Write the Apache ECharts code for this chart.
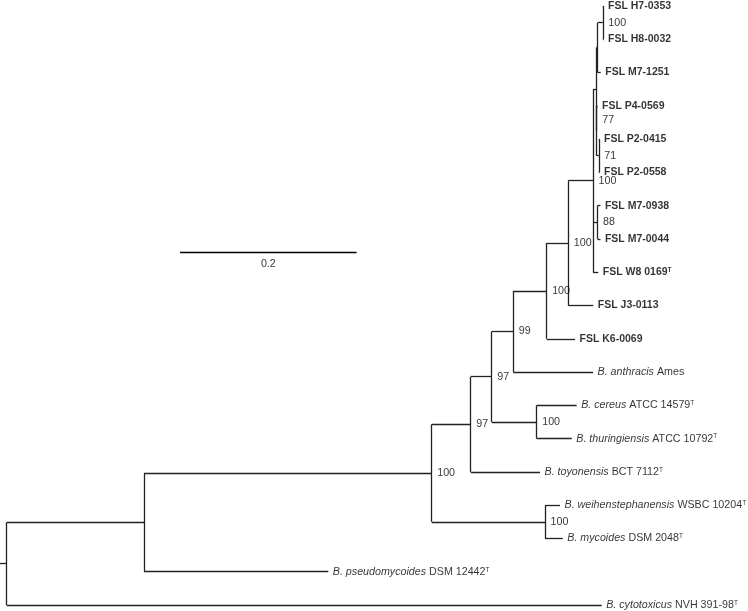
<!DOCTYPE html>
<html>
<head>
<meta charset="utf-8">
<script src="https://cdn.jsdelivr.net/npm/echarts@6/dist/echarts.min.js"></script>
<style>
  html, body { margin: 0; padding: 0; background: #fff; }
  #chart { width: 748px; height: 611px; }
</style>
</head>
<body>
<div id="chart"></div>
<script>
// leaves, top to bottom (row index = position in list)
const leafSpecies = ['', '', '', '', '', '', '', '', '', '', '',
  'B. anthracis', 'B. cereus', 'B. thuringiensis', 'B. toyonensis',
  'B. weihenstephanensis', 'B. mycoides', 'B. pseudomycoides', 'B. cytotoxicus']
const leafStrain = ['FSL H7-0353', 'FSL H8-0032', 'FSL M7-1251', 'FSL P4-0569', 'FSL P2-0415',
  'FSL P2-0558', 'FSL M7-0938', 'FSL M7-0044', 'FSL W8 0169', 'FSL J3-0113', 'FSL K6-0069',
  'Ames', 'ATCC 14579', 'ATCC 10792', 'BCT 7112', 'WSBC 10204', 'DSM 2048', 'DSM 12442', 'NVH 391-98']
const leafTypeStrain = [0, 0, 0, 0, 0, 0, 0, 0, 1, 0, 0, 0, 1, 1, 1, 1, 1, 1, 1]
// distance from root (substitutions per site)
const leafDepth = [0.6759, 0.6759, 0.6727, 0.6691, 0.6713, 0.6713, 0.6724, 0.6724, 0.6700, 0.6643,
  0.6436, 0.6640, 0.6455, 0.6399, 0.6040, 0.6266, 0.6297, 0.3642, 0.6738]
const leafParent = ['HH', 'HH', 'Zp', 'Q', 'P2', 'P2', 'M7', 'M7', 'H', 'G',
  'F', 'D2', 'CT', 'CT', 'C', 'E', 'E', 'A', 'root']

// internal nodes
const nodeIds     = ['HH', 'Zp', 'P2', 'Q', 'Z', 'M7', 'H', 'G', 'F', 'D2', 'CT', 'D', 'C', 'E', 'B', 'A', 'root']
const nodeParent  = ['Zp', 'Z', 'Q', 'Z', 'H', 'H', 'G', 'F', 'D2', 'D', 'D', 'C', 'B', 'B', 'A', 'root', null]
const nodeDepth   = [0.6751, 0.6693, 0.6705, 0.6682, 0.6680, 0.6690, 0.6640, 0.6360, 0.6115, 0.5737,
  0.6002, 0.5493, 0.5255, 0.6096, 0.4813, 0.1555, 0]
const nodeSupport = [100, null, 71, 77, null, 88, 100, 100, 100, 99, 100, 97, 97, 100, 100, null, null]
// small vertical nudge (px) for crowded support labels
const supportNudge = { Q: -11 }

const scaleBarLength = 0.2
const scaleBarStart = 0.1963
const scaleBarRow = 7.4
const rootStub = -0.0076

// build geometry through the tree
const depth = {}, row = {}, parent = {}, children = {}
leafStrain.forEach((s, i) => {
  const id = 'leaf' + i
  depth[id] = leafDepth[i]; row[id] = i; parent[id] = leafParent[i]
})
nodeIds.forEach((id, i) => { depth[id] = nodeDepth[i]; parent[id] = nodeParent[i] })
Object.keys(parent).forEach(id => {
  const p = parent[id]
  if (p) (children[p] = children[p] || []).push(id)
})
function placeRow(id) {
  if (row[id] !== undefined) return row[id]
  const ys = children[id].map(placeRow)
  row[id] = (Math.min(...ys) + Math.max(...ys)) / 2
  return row[id]
}
placeRow('root')

const segments = []
Object.keys(parent).forEach(id => {
  const p = parent[id]
  if (p) segments.push({ coords: [[depth[p], row[id]], [depth[id], row[id]]] })
})
Object.keys(children).forEach(id => {
  const ys = children[id].map(c => row[c])
  segments.push({ coords: [[depth[id], Math.min(...ys)], [depth[id], Math.max(...ys)]] })
})
segments.push({ coords: [[rootStub, row.root], [0, row.root]] })

const scaleBar = [{ coords: [[scaleBarStart, scaleBarRow], [scaleBarStart + scaleBarLength, scaleBarRow]] }]

const leafPoints = leafStrain.map((s, i) => {
  let txt
  if (leafSpecies[i]) {
    txt = '{i|' + leafSpecies[i] + '}{r| ' + s + '}' + (leafTypeStrain[i] ? '{sup|T}' : '')
  } else {
    txt = '{b|' + s + '}' + (leafTypeStrain[i] ? '{bsup|T}' : '')
  }
  return { value: [leafDepth[i], i], txt: txt }
})
const supportPoints = []
nodeIds.forEach((id, i) => {
  if (nodeSupport[i] == null) return
  const pt = { value: [nodeDepth[i], row[id]], txt: String(nodeSupport[i]) }
  if (supportNudge[id]) pt.label = { offset: [0, supportNudge[id]] }
  supportPoints.push(pt)
})

const font = '"Liberation Sans", Arial, Helvetica, sans-serif'
const ink = '#000'

const chart = echarts.init(document.getElementById('chart'))
chart.setOption({
  animation: false,
  backgroundColor: '#fff',
  grid: { left: 0, right: 0, top: 0, bottom: 0 },
  xAxis: { type: 'value', min: -0.00759, max: 0.8395, show: false },
  yAxis: { type: 'value', min: -0.18, max: 18.18, inverse: true, show: false },
  series: [
    {
      type: 'lines',
      coordinateSystem: 'cartesian2d',
      data: segments,
      lineStyle: { color: '#222', width: 1.3, opacity: 1 },
      silent: true
    },
    {
      type: 'lines',
      coordinateSystem: 'cartesian2d',
      data: scaleBar,
      lineStyle: { color: '#000', width: 1.4, opacity: 1 },
      silent: true
    },
    {
      type: 'scatter',
      data: [{ value: [scaleBarStart + scaleBarLength / 2, scaleBarRow] }],
      symbolSize: 1,
      itemStyle: { color: 'rgba(0,0,0,0)' },
      label: {
        show: true, position: 'bottom', distance: 6,
        formatter: '0.2', fontFamily: font, fontSize: 10.7, color: ink
      }
    },
    {
      type: 'scatter',
      data: leafPoints,
      symbolSize: 1,
      itemStyle: { color: 'rgba(0,0,0,0)' },
      label: {
        show: true, position: 'right', distance: 4,
        formatter: p => p.data.txt,
        rich: {
          b: { fontFamily: font, fontSize: 10.5, fontWeight: 'bold', color: ink },
          bsup: { fontFamily: font, fontSize: 6.5, fontWeight: 'bold', color: ink, verticalAlign: 'top' },
          i: { fontFamily: font, fontSize: 10.7, fontStyle: 'italic', color: ink },
          r: { fontFamily: font, fontSize: 10.7, color: ink },
          sup: { fontFamily: font, fontSize: 6.5, color: ink, verticalAlign: 'top' }
        }
      }
    },
    {
      type: 'scatter',
      data: supportPoints,
      symbolSize: 1,
      itemStyle: { color: 'rgba(0,0,0,0)' },
      label: {
        show: true, position: 'right', distance: 5,
        formatter: p => p.data.txt,
        fontFamily: font, fontSize: 10.7, color: ink
      }
    }
  ]
})
</script>
</body>
</html>
